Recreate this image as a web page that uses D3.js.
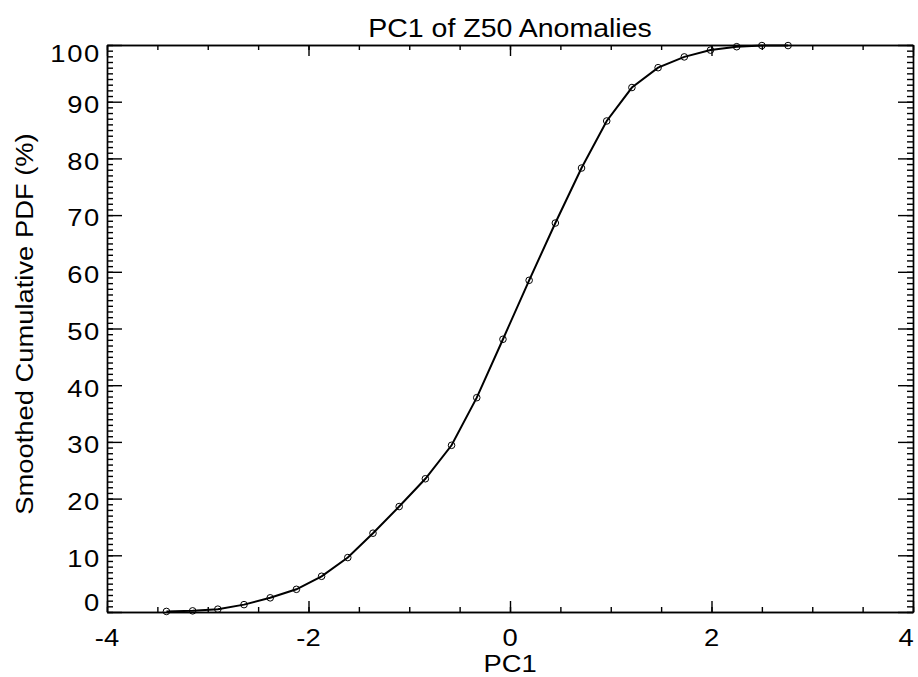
<!DOCTYPE html>
<html>
<head>
<meta charset="utf-8">
<script src="https://cdn.jsdelivr.net/npm/d3@7"></script>
<style>
    body { margin: 0; background: #ffffff; }
    text { font-family: "Liberation Sans", Arial, Helvetica, sans-serif; fill: #000000; }
</style>
</head>
<body>
<div id="chart"></div>
<script>
// Data
const pcValues  = [-3.41, -3.15, -2.90, -2.64, -2.38, -2.12, -1.87, -1.61, -1.36, -1.10, -0.84, -0.58, -0.33,
                   -0.07, 0.19, 0.45, 0.71, 0.96, 1.21, 1.47, 1.73, 1.99, 2.25, 2.50, 2.76];
const cdfValues = [0.1, 0.2, 0.5, 1.3, 2.5, 4.0, 6.3, 9.6, 13.9, 18.6, 23.5, 29.4, 37.8,
                   48.1, 58.5, 68.6, 78.3, 86.6, 92.5, 96.0, 97.9, 99.1, 99.7, 99.9, 99.9];
const xTicks = [-4, -2, 0, 2, 4];
const yTicks = [0, 10, 20, 30, 40, 50, 60, 70, 80, 90, 100];
const chartTitle = "PC1 of Z50 Anomalies";
const xTitle = "PC1";
const yTitle = "Smoothed Cumulative PDF (%)";

const data = pcValues.map((d, i) => ({ PC: d, CDF: cdfValues[i] }));

// Specify the chart’s dimensions.
const Width = 918, Height = 677;
const margin = { Top: 45, Right: 5, Bottom: 65, Left: 107 };
const stretch = "scale(1.14,1)";   // reference font is a bit wider than Arial

const svg = d3.select("#chart")
    .append("svg")
        .attr("width", Width)
        .attr("height", Height);

const xScale = d3.scaleLinear()
    .domain([-4, 4])
    .range([margin.Left, Width - margin.Right]);
const yScale = d3.scaleLinear()
    .domain([0, 100])
    .range([Height - margin.Bottom, margin.Top]);

const xMinor = d3.range(-4, 4.001, 0.5);
const yMinor = d3.range(0, 100.001, 1);

// Axes (ticks on all four sides, pointing inward)
function drawAxis(axis, tx, ty) {
    svg.append("g")
        .attr("transform", `translate(${tx}, ${ty})`)
        .attr("stroke-width", 1.4)
        .call(axis.tickSizeOuter(0).tickFormat(""))
        .call(g => g.selectAll("line").attr("stroke", "#000"))
        .call(g => g.select(".domain").attr("stroke", "#000"));
}
drawAxis(d3.axisBottom(xScale).tickValues(xMinor).tickSizeInner(-5), 0, Height - margin.Bottom);
drawAxis(d3.axisBottom(xScale).tickValues(xTicks).tickSizeInner(-11), 0, Height - margin.Bottom);
drawAxis(d3.axisTop(xScale).tickValues(xMinor).tickSizeInner(-5), 0, margin.Top);
drawAxis(d3.axisTop(xScale).tickValues(xTicks).tickSizeInner(-11), 0, margin.Top);
drawAxis(d3.axisLeft(yScale).tickValues(yMinor).tickSizeInner(-6), margin.Left, 0);
drawAxis(d3.axisLeft(yScale).tickValues(yTicks).tickSizeInner(-15), margin.Left, 0);
drawAxis(d3.axisRight(yScale).tickValues(yMinor).tickSizeInner(-6), Width - margin.Right, 0);
drawAxis(d3.axisRight(yScale).tickValues(yTicks).tickSizeInner(-15), Width - margin.Right, 0);

// Tick labels
svg.append("g")
    .selectAll("text")
    .data(xTicks)
    .join("text")
        .attr("transform", d => `translate(${Math.min(xScale(d), 906)}, 646) ${stretch}`)
        .attr("text-anchor", "middle")
        .attr("font-size", 24)
        .text(d => d);

svg.append("g")
    .selectAll("text")
    .data(yTicks)
    .join("text")
        .attr("transform", d => {
            // end labels are pushed inside the axis range
            const shift = d === 0 ? -1 : (d === 100 ? 17 : 11.3);
            return `translate(101, ${yScale(d) + shift}) ${stretch}`;
        })
        .attr("text-anchor", "end")
        .attr("letter-spacing", 1.5)
        .attr("font-size", 24)
        .text(d => d);

// Titles
svg.append("text")
    .attr("transform", `translate(${(margin.Left + Width - margin.Right) / 2}, 36.5) ${stretch}`)
    .attr("text-anchor", "middle")
    .attr("font-size", 25)
    .text(chartTitle);

svg.append("text")
    .attr("transform", `translate(${(margin.Left + Width - margin.Right) / 2}, 672) ${stretch}`)
    .attr("text-anchor", "middle")
    .attr("font-size", 24)
    .text(xTitle);

svg.append("text")
    .attr("transform", `translate(32.5, 324) rotate(-90) ${stretch}`)
    .attr("text-anchor", "middle")
    .attr("font-size", 24)
    .text(yTitle);

// Line
svg.append("path")
    .datum(data)
    .attr("fill", "none")
    .attr("stroke", "#000")
    .attr("stroke-width", 2)
    .attr("d", d3.line().x(d => xScale(d.PC)).y(d => yScale(d.CDF)));

// Dots
svg.append("g")
    .attr("fill", "none")
    .attr("stroke", "#000")
    .attr("stroke-width", 1)
    .selectAll("circle")
    .data(data)
    .join("circle")
        .attr("cx", d => xScale(d.PC))
        .attr("cy", d => yScale(d.CDF))
        .attr("r", 3.3);
</script>
</body>
</html>
